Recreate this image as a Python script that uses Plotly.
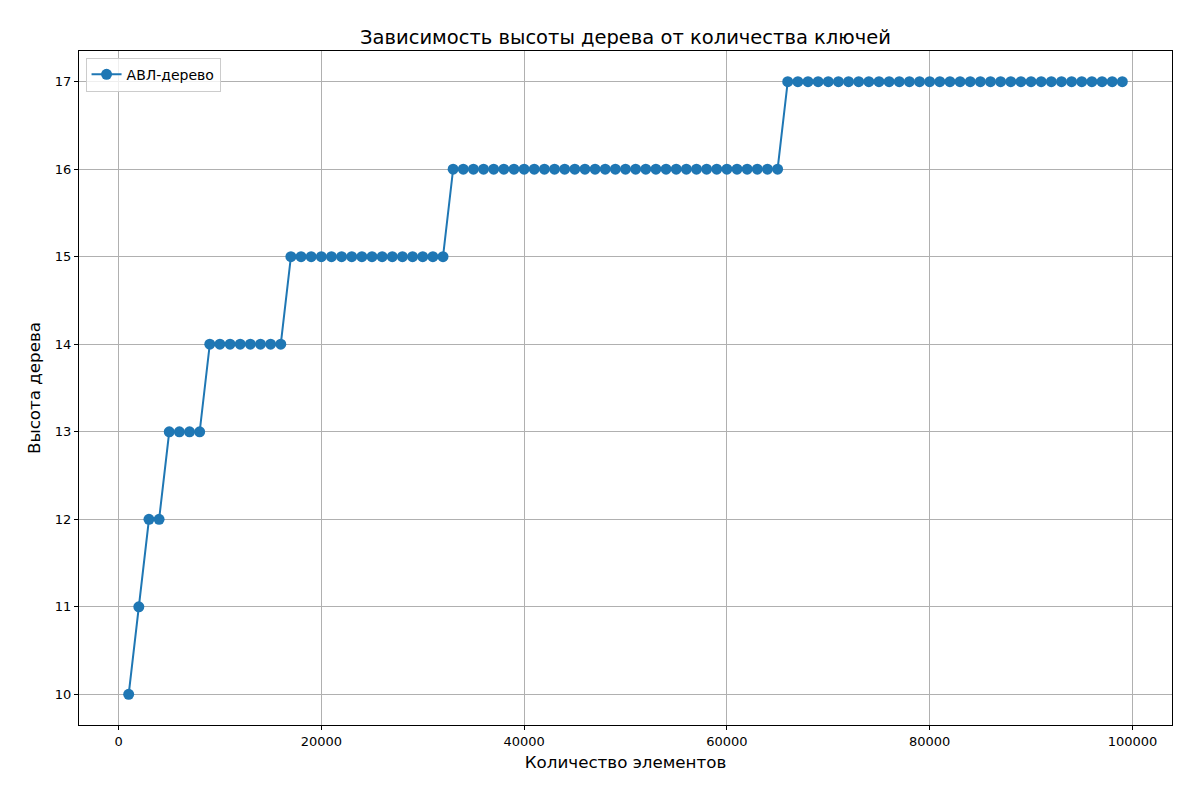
import plotly.graph_objects as go

# ── Data ─────────────────────────────────────────────────────
KEYS = [
    1000, 2000, 3000, 4000, 5000, 6000, 7000, 8000, 9000, 10000,
    11000, 12000, 13000, 14000, 15000, 16000, 17000, 18000, 19000, 20000,
    21000, 22000, 23000, 24000, 25000, 26000, 27000, 28000, 29000, 30000,
    31000, 32000, 33000, 34000, 35000, 36000, 37000, 38000, 39000, 40000,
    41000, 42000, 43000, 44000, 45000, 46000, 47000, 48000, 49000, 50000,
    51000, 52000, 53000, 54000, 55000, 56000, 57000, 58000, 59000, 60000,
    61000, 62000, 63000, 64000, 65000, 66000, 67000, 68000, 69000, 70000,
    71000, 72000, 73000, 74000, 75000, 76000, 77000, 78000, 79000, 80000,
    81000, 82000, 83000, 84000, 85000, 86000, 87000, 88000, 89000, 90000,
    91000, 92000, 93000, 94000, 95000, 96000, 97000, 98000, 99000,
]

AVL_HEIGHT = [
    10, 11, 12, 12, 13, 13, 13, 13, 14, 14,
    14, 14, 14, 14, 14, 14, 15, 15, 15, 15,
    15, 15, 15, 15, 15, 15, 15, 15, 15, 15,
    15, 15, 16, 16, 16, 16, 16, 16, 16, 16,
    16, 16, 16, 16, 16, 16, 16, 16, 16, 16,
    16, 16, 16, 16, 16, 16, 16, 16, 16, 16,
    16, 16, 16, 16, 16, 17, 17, 17, 17, 17,
    17, 17, 17, 17, 17, 17, 17, 17, 17, 17,
    17, 17, 17, 17, 17, 17, 17, 17, 17, 17,
    17, 17, 17, 17, 17, 17, 17, 17, 17,
]

X_TICKS = [0, 20000, 40000, 60000, 80000, 100000]
Y_TICKS = [10, 11, 12, 13, 14, 15, 16, 17]

BLUE = "#1f77b4"
GRID = "#b0b0b0"
FONT = "DejaVu Sans, sans-serif"

fig = go.Figure()

fig.add_trace(go.Scatter(
    x      = KEYS,
    y      = AVL_HEIGHT,
    mode   = "lines+markers",
    name   = "АВЛ-дерево",
    line   = dict(color=BLUE, width=2),
    marker = dict(size=11, color=BLUE),
))

axis_common = dict(
    showgrid  = True,
    gridcolor = GRID,
    gridwidth = 1,
    showline  = True,
    linecolor = "black",
    linewidth = 1,
    mirror    = True,
    ticks     = "outside",
    ticklen   = 4,
    tickcolor = "black",
    zeroline  = False,
    tickfont  = dict(size=13, color="black"),
)

# page body has an 8px margin, so the margins are shifted to compensate
fig.update_layout(
    width         = 1200,
    height        = 800,
    paper_bgcolor = "white",
    plot_bgcolor  = "white",
    font          = dict(family=FONT, color="black"),
    margin        = dict(l=71, r=36, t=43, b=83),
    title         = dict(text="Зависимость высоты дерева от количества ключей",
                         font=dict(size=19.5), x=0.5, xref="paper", xanchor="center",
                         y=0.964, yanchor="middle"),
    xaxis         = dict(**axis_common, range=[-3900, 103900],
                         tickvals=X_TICKS, ticktext=[str(v) for v in X_TICKS],
                         title=dict(text="Количество элементов", font=dict(size=16.7), standoff=8)),
    yaxis         = dict(**axis_common, range=[9.65, 17.35],
                         tickvals=Y_TICKS,
                         title=dict(text="Высота дерева", font=dict(size=16.7), standoff=10)),
    showlegend    = True,
    legend        = dict(x=0.006, y=0.99, xanchor="left", yanchor="top",
                         bgcolor="rgba(255,255,255,0.8)", bordercolor="#cccccc",
                         borderwidth=1, font=dict(size=14)),
)

fig.write_html("out.html")
